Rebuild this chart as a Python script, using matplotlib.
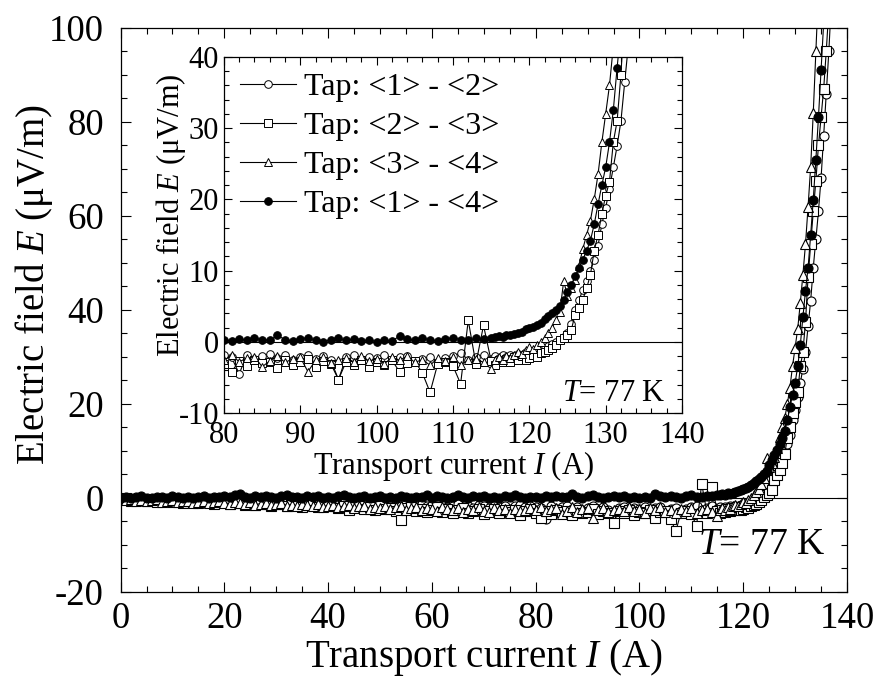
import numpy as np
import matplotlib
matplotlib.use("Agg")
import matplotlib.pyplot as plt
from matplotlib.ticker import MultipleLocator

plt.rcParams['font.family'] = ['Liberation Serif', 'DejaVu Serif']
plt.rcParams['mathtext.fontset'] = 'custom'
plt.rcParams['mathtext.rm'] = 'Liberation Serif'
plt.rcParams['mathtext.it'] = 'Liberation Serif:italic'
plt.rcParams['axes.unicode_minus'] = False

# current grid: 1 A steps up to 114 A, then 0.5 A steps near Ic
I_base = np.arange(0, 115, 1.0)
I_rise = np.arange(115, 137.5, 0.5)
current = np.concatenate([I_base, I_rise])

# Tap <1>-<2>, open circles
E_12 = [-0.1, -0.3, -0.2, -0.4, -0.1, -0.5, -0.3, -0.2, -0.6, -0.4, -0.3, -0.5, -0.7, -0.4, -0.6, -0.3, -0.8, -0.5, -0.7, -0.6,
        -0.4, -0.8, -0.6, -0.9, -0.5, -0.7, -1.0, -0.8, -0.6, -1.1, -0.9, -0.7, -1.2, -0.8, -1.0, -1.3, -0.9, -1.1, -1.4, -1.0,
        -1.2, -0.9, -1.5, -1.1, -1.3, -1.6, -1.0, -1.4, -1.2, -1.7, -1.3, -1.1, -1.6, -1.4, -1.8, -1.2, -1.5, -1.9, -1.3, -1.6,
        -1.4, -1.8, -1.5, -2.0, -1.6, -1.3, -1.9, -1.7, -2.1, -1.5, -1.8, -2.2, -1.6, -1.9, -1.7, -2.3, -1.8, -1.5, -2.0, -1.7,
        -1.9, -2.2, -4.5, -1.8, -2.4, -2.0, -1.7, -2.3, -1.9, -2.5, -2.1, -1.8, -2.4, -2.0, -2.6, -5.3, -2.2, -1.9, -2.5, -2.1,
        -2.3, -1.9, -2.6, -2.2, -2.0, -2.7, -2.4, -2.1, -2.8, -2.3, -2.0, -1.6, -2.5, -2.2, -1.8,
        -2.4, -2.0, -2.3, -1.9, -2.2, -1.8, -2.0, -1.7, -1.9, -1.5,
        -1.6, -1.3, -1.4, -1.0, -0.9, -0.6, -0.3, 0.0, 0.3, 0.7,
        1.2, 2.5, 4.5, 5.8, 7.3, 8.6, 10.0, 11.5, 13.5, 16.5,
        18.8, 21.5, 24.5, 27.5, 31.0, 36.5, 42.0, 49.0, 55.0, 61.0,
        68.0, 77.0, 86.0, 95.0, 106.0]

# Tap <2>-<3>, open squares
E_23 = [-0.3, -0.1, -0.6, -0.4, -0.2, -0.7, -0.5, -0.9, -0.3, -0.6, -0.8, -0.4, -1.0, -0.7, -0.5, -1.1, -0.8, -0.6, -1.2, -0.9,
        -0.7, -1.3, -1.0, -0.8, -1.4, -1.1, -1.5, -0.9, -1.3, -1.6, -1.2, -1.0, -1.7, -1.4, -1.2, -1.9, -1.5, -1.3, -2.0, -1.6,
        -1.8, -1.4, -2.2, -1.7, -2.5, -1.9, -1.6, -2.3, -2.0, -2.6, -1.8, -2.4, -2.1, -2.8, -4.7, -2.2, -1.9, -2.7, -2.3, -3.0,
        -2.5, -2.0, -2.9, -2.4, -3.3, -2.6, -2.2, -3.1, -2.7, -2.4, -3.5, -2.8, -2.3, -3.2, -2.6, -3.0, -2.5, -3.6, -2.8, -2.4,
        -3.1, -4.2, -2.7, -3.4, -2.5, -3.0, -2.8, -3.7, -2.6, -3.2, -2.9, -2.4, -3.5, -2.7, -3.1, -5.3, -2.8, -3.3, -2.5, -3.6,
        -2.9, -3.2, -2.6, -4.2, -3.0, -2.7, -4.4, -7.1, -3.1, -2.8, -3.4, -5.9, 3.0, -3.1, 2.3,
        -2.7, -3.2, -2.5, -2.9, -2.4, -2.8, -2.2, -2.6, -2.0, -2.5,
        -2.3, -1.9, -2.2, -1.6, -1.4, -1.2, -0.9, -0.5, 0.2, 0.6,
        1.0, 1.7, 3.8, 4.8, 5.9, 7.5, 9.4, 12.8, 15.0, 18.0,
        20.5, 22.5, 28.0, 31.0, 37.5, 47.0, 54.0, 61.0, 67.5, 75.0,
        81.0, 87.0, 95.0, 104.0]

# Tap <3>-<4>, open triangles
E_34 = [-0.2, -0.5, -0.3, -0.6, -0.4, -0.7, -0.5, -0.3, -0.8, -0.6, -0.5, -0.9, -0.7, -0.6, -1.0, -0.8, -0.6, -1.1, -0.9, -0.7,
        -1.0, -1.2, -0.8, -1.1, -1.3, -0.9, -1.4, -1.2, -1.0, -1.5, -1.3, -1.1, -1.6, -1.4, -1.8, -1.2, -1.5, -1.7, -1.3, -1.9,
        -1.6, -1.4, -2.0, -1.7, -1.5, -2.2, -1.8, -1.6, -2.3, -1.9, -2.1, -1.7, -2.4, -2.0, -1.8, -2.6, -2.2, -1.9, -2.5, -2.1,
        -2.3, -2.8, -2.0, -2.4, -2.6, -2.1, -2.9, -2.3, -2.5, -2.0, -2.7, -3.0, -2.2, -2.6, -2.4, -3.1, -2.3, -2.7, -2.5, -2.2,
        -2.6, -1.9, -2.8, -2.3, -2.1, -3.5, -2.7, -2.0, -2.9, -2.4, -2.2, -4.2, -2.6, -2.1, -3.0, -2.5, -2.3, -2.8, -2.0, -2.7,
        -2.4, -3.1, -2.2, -2.6, -2.0, -2.9, -2.5, -3.3, -2.3, -2.7, -2.1, -3.2, -2.6, -2.4, -2.9,
        -3.8, -2.5, -2.2, -2.6, -2.0, -2.3, -1.8, -1.5, -1.7, -1.2,
        -0.8, -1.0, -0.4, 0.0, 0.6, 1.2, 2.0, 3.0, 4.2, 8.5,
        6.5, 7.5, 8.7, 10.7, 13.0, 15.0, 17.0, 20.0, 23.5, 28.0,
        32.0, 36.0, 41.5, 47.5, 54.0, 62.0, 70.5, 82.0, 95.0, 108.0]

# Tap <1>-<4>, filled circles
E_14 = [0.1, 0.3, 0.0, 0.2, 0.4, 0.1, -0.1, 0.3, 0.2, 0.0, 0.4, 0.2, 0.1, 0.3, -0.1, 0.2, 0.5, 0.1, 0.3, 0.2,
        0.4, 0.2, 0.6, 0.9, 0.3, 0.1, 0.4, 0.2, 0.5, 0.3, 0.0, 0.4, 0.6, 0.2, 0.3, 0.1, 0.5, 0.2, 0.4, 0.0,
        0.3, 0.1, 0.4, 0.6, 0.2, 0.0, 0.3, 0.5, 0.1, 0.2, 0.4, 0.0, 0.3, 0.1, 0.5, 0.2, -0.1, 0.3, 0.2, 0.6,
        0.1, 0.4, 0.2, 0.0, 0.3, 0.7, 0.2, 0.1, 0.4, 0.2, 0.5, 0.0, 0.3, 0.1, 0.4, 0.2, 0.6, 0.3, 0.1, 0.2,
        0.3, 0.1, 0.4, 0.2, 0.5, 0.3, 0.2, 0.9, 0.3, 0.1, 0.4, 0.6, 0.2, 0.0, 0.3, 0.5, 0.2, 0.4, 0.1, 0.3,
        0.0, 0.2, 0.1, 0.8, 0.4, 0.2, 0.5, 0.3, 0.1, 0.4, 0.6, 0.3, 0.2, 0.5, 0.4,
        0.6, 0.7, 0.8, 0.7, 1.0, 0.9, 1.1, 1.3, 1.4, 1.8,
        1.9, 2.1, 2.4, 2.7, 3.2, 3.6, 4.0, 4.4, 5.0, 5.8,
        7.0, 8.0, 9.2, 10.3, 11.5, 12.8, 14.2, 16.5, 19.3, 22.0,
        24.5, 28.0, 32.5, 38.5, 44.0, 49.0, 56.0, 63.5, 72.0, 81.0,
        91.0, 101.0]

series = [
    (E_12, 'o', 'white', 'Tap: <1> - <2>'),
    (E_23, 's', 'white', 'Tap: <2> - <3>'),
    (E_34, '^', 'white', 'Tap: <3> - <4>'),
    (E_14, 'o', 'black', 'Tap: <1> - <4>'),
]


def style_axes(ax, fs, xmaj, xmin, ymaj, ymin, xpad, ypad):
    ax.tick_params(which='both', direction='in', top=True, right=True,
                   width=0.8, labelsize=fs)
    ax.tick_params(which='major', length=7.5)
    ax.tick_params(which='minor', length=4)
    ax.tick_params(axis='x', pad=xpad)
    ax.tick_params(axis='y', pad=ypad)
    ax.xaxis.set_major_locator(MultipleLocator(xmaj))
    ax.xaxis.set_minor_locator(MultipleLocator(xmin))
    ax.yaxis.set_major_locator(MultipleLocator(ymaj))
    ax.yaxis.set_minor_locator(MultipleLocator(ymin))
    for sp in ax.spines.values():
        sp.set_linewidth(0.9)


fig = plt.figure(figsize=(8.8, 6.89), dpi=100)
ax = fig.add_axes([0.137, 0.1408, 0.8255, 0.8186])

ax.axhline(0, color='black', lw=0.8, zorder=1)
for E, m, fc, lab in series:
    ax.plot(current[:len(E)], E, color='black', lw=0.8, marker=m, ms=6.5,
            mfc=fc, mec='black', mew=0.8)
ax.set_xlim(0, 140)
ax.set_ylim(-20, 100)
style_axes(ax, 26.5, 20, 5, 20, 5, 7, 12)
ax.set_xlabel('Transport current $I$ (A)', fontsize=28)
ax.set_ylabel('Electric field $E$ (μV/m)', fontsize=28)
ax.xaxis.set_label_coords(0.5, -0.08)
ax.yaxis.set_label_coords(-0.09, 0.545)
ax.text(0.97, 0.083, '$T$= 77 K', transform=ax.transAxes, fontsize=27,
        ha='right', va='center')

# inset: close-up of the transition
ins = fig.add_axes([0.2545, 0.4006, 0.5205, 0.5167])
ins.axhline(0, color='black', lw=0.8, zorder=1)
for E, m, fc, lab in series:
    ins.plot(current[:len(E)], E, color='black', lw=0.8, marker=m, ms=5.5,
             mfc=fc, mec='black', mew=0.7, label=lab)
ins.set_xlim(80, 140)
ins.set_ylim(-10, 40)
style_axes(ins, 22, 10, 2, 10, 2, 6, 3.5)
ins.tick_params(which='major', length=6)
ins.tick_params(which='minor', length=3.5)
ins.set_xlabel('Transport current $I$ (A)', fontsize=22)
ins.set_ylabel('Electric field $E$ (μV/m)', fontsize=22)
ins.xaxis.set_label_coords(0.5, -0.10)
ins.yaxis.set_label_coords(-0.078, 0.556)
ins.text(0.965, 0.056, '$T$= 77 K', transform=ins.transAxes, fontsize=22,
         ha='right', va='center')
ins.legend(loc='upper left', bbox_to_anchor=(0.0, 1.0), frameon=False,
           fontsize=23, handlelength=1.75, handletextpad=0.25,
           labelspacing=0.3, borderaxespad=0.3, borderpad=0.2)

fig.savefig('out.png', dpi=100)
